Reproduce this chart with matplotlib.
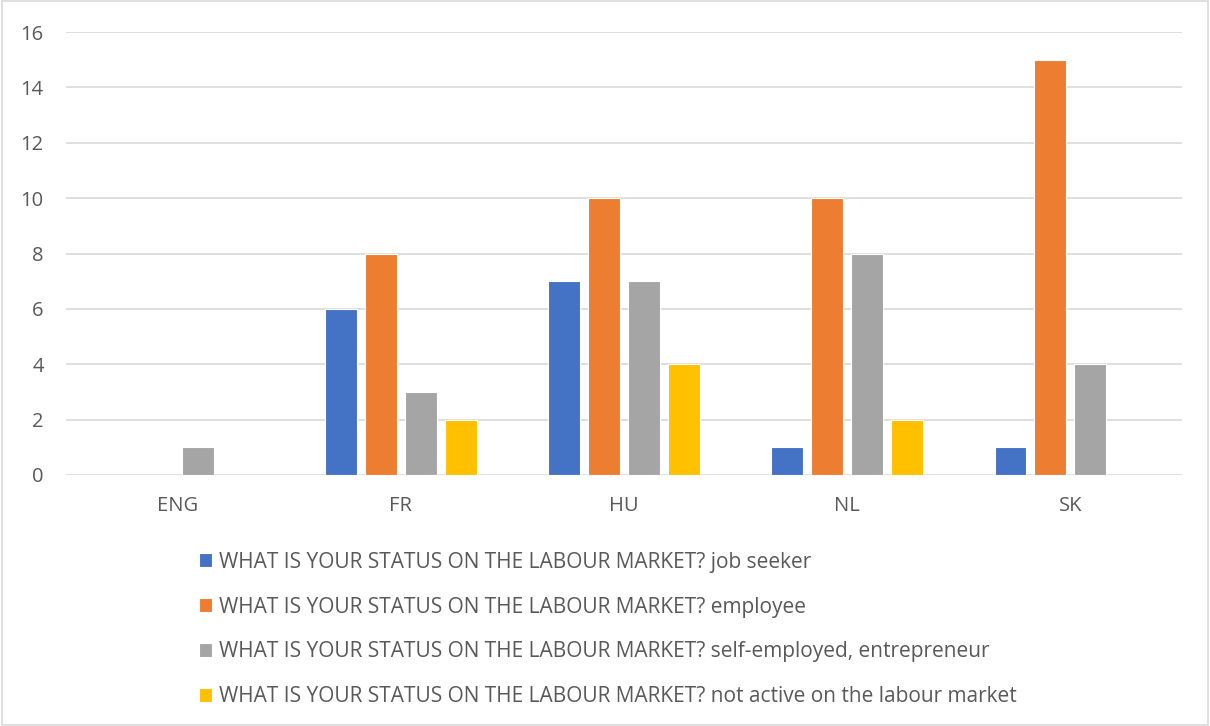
import numpy as np
import matplotlib.pyplot as plt
from matplotlib.patches import Rectangle

# survey counts by country
countries = ['ENG', 'FR', 'HU', 'NL', 'SK']
job_seeker = [0, 6, 7, 1, 1]
employee = [0, 8, 10, 10, 15]
self_employed = [1, 3, 7, 8, 4]
not_active = [0, 2, 4, 2, 0]

series_names = [
    'WHAT IS YOUR STATUS ON THE LABOUR MARKET? job seeker',
    'WHAT IS YOUR STATUS ON THE LABOUR MARKET? employee',
    'WHAT IS YOUR STATUS ON THE LABOUR MARKET? self-employed, entrepreneur',
    'WHAT IS YOUR STATUS ON THE LABOUR MARKET? not active on the labour market',
]
colors = ['#4472C4', '#ED7D31', '#A5A5A5', '#FFC000']
txt = '#595959'

plt.rcParams['font.family'] = ['Open Sans', 'DejaVu Sans']

fig = plt.figure(figsize=(12.1, 7.26), dpi=100)
ax = fig.add_axes([66 / 1210, 1 - 475 / 726, (1182 - 66) / 1210, (475 - 32) / 726])

x = np.arange(len(countries))
w = 0.143
step = 0.179
data = [job_seeker, employee, self_employed, not_active]
for i, (vals, c, name) in enumerate(zip(data, colors, series_names)):
    ax.bar(x + (i - 1.5) * step, vals, w, color=c, label=name,
           edgecolor='white', linewidth=0.8, zorder=3)

ax.set_xlim(-0.5, len(countries) - 0.5)
ax.set_ylim(0, 16)
ax.set_yticks(range(0, 17, 2))
ax.set_xticks(x)
ax.set_xticklabels(countries)
ax.grid(axis='y', color='#D9D9D9', linewidth=1.2, zorder=0)
for s in ax.spines.values():
    s.set_visible(False)
ax.tick_params(length=0, labelsize=14.5, colors=txt)
ax.tick_params(axis='y', pad=16)
ax.tick_params(axis='x', pad=15)

leg = fig.legend(loc='upper left', bbox_to_anchor=(180 / 1210, 1 - 533 / 726),
                 frameon=False, fontsize=15, labelcolor=txt, handlelength=0.65,
                 handleheight=0.65, handletextpad=0.3, labelspacing=1.14)

# light frame round the chart area
fig.patches.append(Rectangle((0.002, 0.002), 0.996, 0.996, transform=fig.transFigure,
                             fill=False, edgecolor='#D9D9D9', linewidth=1.2))

fig.savefig('out.png', dpi=100)
